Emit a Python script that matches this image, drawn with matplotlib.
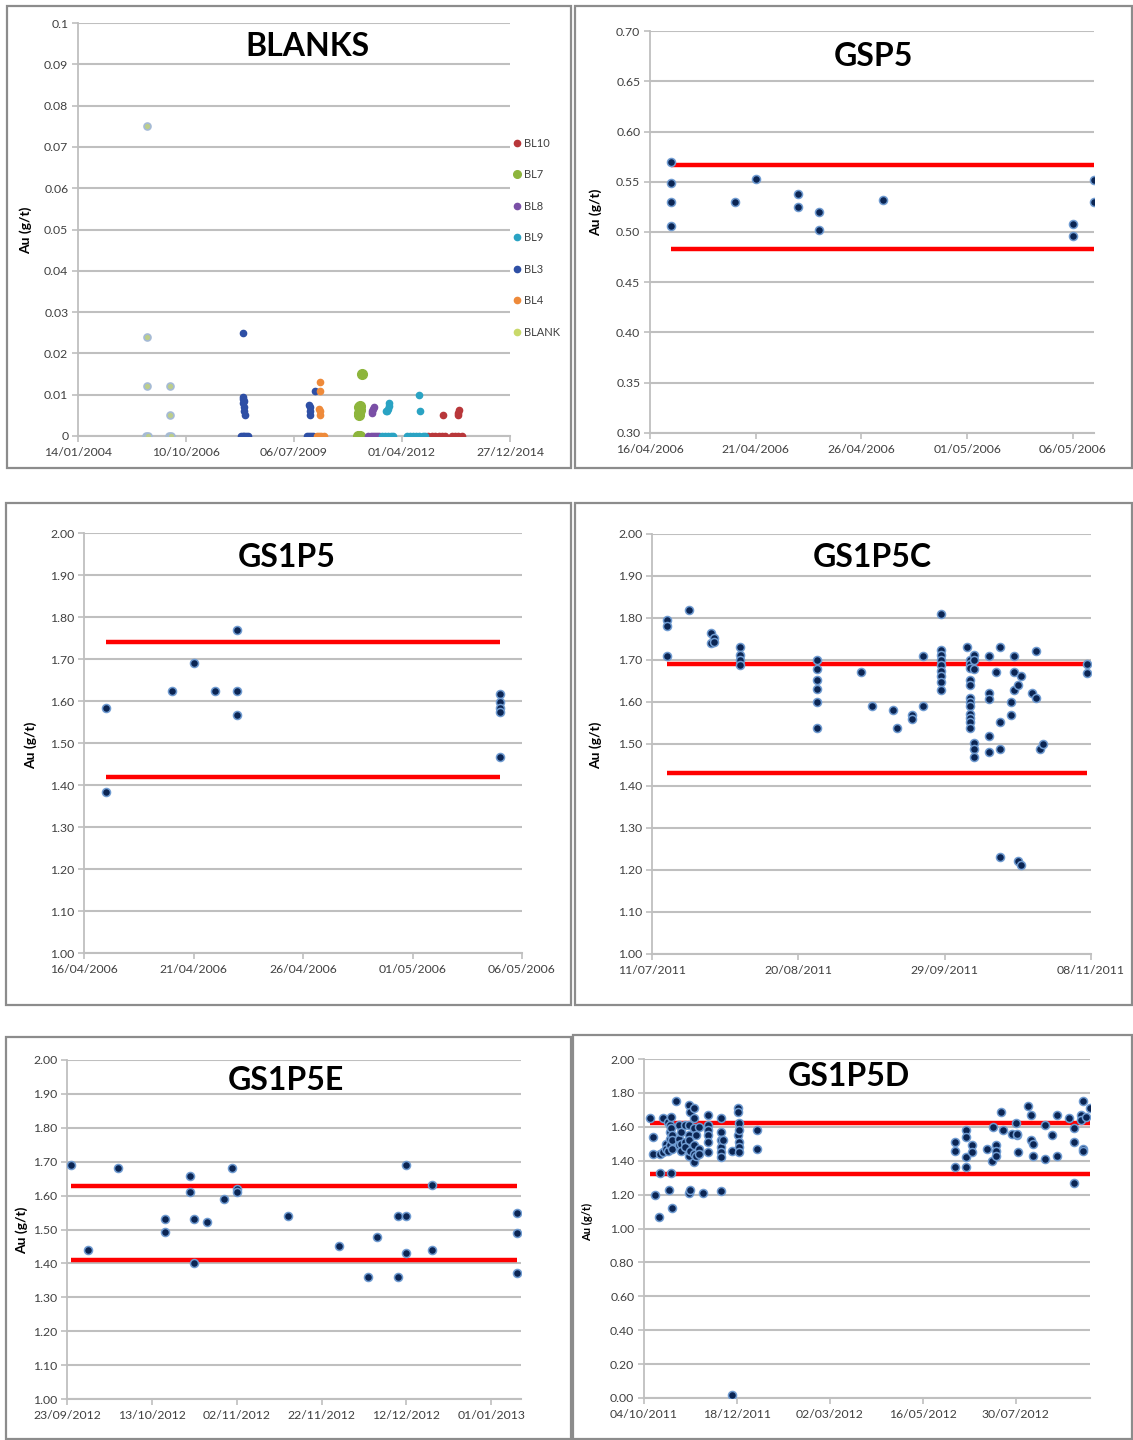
import numpy as np
import matplotlib
matplotlib.use('Agg')
import matplotlib.pyplot as plt
import matplotlib.dates as mdates
from matplotlib.patches import Rectangle
from datetime import date

plt.rcParams['font.family'] = ['Lato', 'DejaVu Sans']

# ---- data (x values are day offsets from each chart's first axis date) ----
BLANKS_START = date(2004, 1, 14)
BLANK_DAYS = [642, 642, 642, 634, 650, 852, 852, 844, 860]
BLANK_VALS = [0.075, 0.024, 0.012, 0, 0, 0.012, 0.005, 0, 0]
BL3_DAYS = [1531, 1525, 1531, 1537, 1528, 1534, 1540, 1545, 1510, 1525, 1540, 1555, 1570,
            2140, 2145, 2150, 2148, 2198, 2117, 2135, 2155, 2173]
BL3_VALS = [0.025, 0.0095, 0.009, 0.0085, 0.008, 0.007, 0.006, 0.005, 0, 0, 0, 0, 0,
            0.0075, 0.007, 0.006, 0.005, 0.011, 0, 0, 0, 0]
BL4_DAYS = [2245, 2238, 2235, 2240, 2245, 2210, 2230, 2250, 2278]
BL4_VALS = [0.013, 0.011, 0.0065, 0.006, 0.005, 0, 0, 0, 0]
BL7_DAYS = [2625, 2615, 2605, 2610, 2600, 2605, 2595, 2612]
BL7_VALS = [0.015, 0.0072, 0.007, 0.0062, 0.0055, 0.005, 0, 0]
BL8_DAYS = [2740, 2730, 2720, 2725, 2688, 2710, 2730, 2750, 2770, 2790]
BL8_VALS = [0.007, 0.0065, 0.006, 0.0055, 0, 0, 0, 0, 0, 0]
BL9_DAYS = [2875, 2878, 2868, 2860, 2850, 2812, 2840, 2870, 2900, 2920,
            3160, 3165, 3043, 3070, 3100, 3130, 3160, 3190, 3213]
BL9_VALS = [0.008, 0.0072, 0.0065, 0.006, 0.006, 0, 0, 0, 0, 0,
            0.010, 0.006, 0, 0, 0, 0, 0, 0, 0]
BL10_DAYS = [3377, 3244, 3275, 3306, 3340, 3370, 3398, 3525, 3520, 3518, 3460, 3490, 3520, 3552]
BL10_VALS = [0.005, 0, 0, 0, 0, 0, 0, 0.0062, 0.0055, 0.005, 0, 0, 0, 0]

GSP5_START = date(2006, 4, 16)
GSP5_DAYS = [1, 1, 1, 1, 4, 5, 7, 7, 8, 8, 11, 20, 20, 21, 21]
GSP5_VALS = [0.570, 0.549, 0.530, 0.506, 0.530, 0.553, 0.538, 0.525, 0.520, 0.502,
             0.532, 0.508, 0.496, 0.552, 0.530]
GSP5_LIMITS = [0.483, 0.567]

GS1P5_START = date(2006, 4, 16)
GS1P5_DAYS = [1, 1, 4, 5, 6, 7, 7, 7, 19, 19, 19, 19, 19]
GS1P5_VALS = [1.584, 1.383, 1.625, 1.691, 1.625, 1.770, 1.625, 1.566,
              1.617, 1.597, 1.584, 1.573, 1.466]
GS1P5_LIMITS = [1.418, 1.740]

GS1P5C_START = date(2011, 7, 11)
GS1P5C_DAYS = [4, 4, 4, 10, 16, 16, 17, 17, 24, 24, 24, 24,
               45, 45, 45, 45, 45, 45, 57, 60, 66, 67, 71, 71, 74, 74,
               79, 79, 79, 79, 79, 79, 79, 79, 79,
               86, 87, 87, 87, 87, 87, 87, 87, 87, 87, 87, 87, 87,
               88, 88, 88, 88, 88, 88, 92, 92, 92, 92, 92, 94,
               95, 95, 95, 95, 98, 98, 99, 99, 99, 100, 100, 101, 101,
               104, 105, 105, 106, 107, 119, 119]
GS1P5C_VALS = [1.796, 1.780, 1.709, 1.819, 1.764, 1.740, 1.752, 1.742, 1.732, 1.711, 1.700, 1.689,
               1.701, 1.678, 1.652, 1.630, 1.599, 1.538, 1.671, 1.591, 1.582, 1.538, 1.570, 1.560,
               1.710, 1.591,
               1.810, 1.725, 1.713, 1.701, 1.687, 1.675, 1.661, 1.648, 1.629,
               1.731, 1.700, 1.690, 1.681, 1.652, 1.641, 1.610, 1.600, 1.591, 1.572, 1.562, 1.552, 1.538,
               1.711, 1.700, 1.678, 1.503, 1.489, 1.468, 1.710, 1.622, 1.608, 1.520, 1.481, 1.671,
               1.731, 1.552, 1.489, 1.232, 1.599, 1.570, 1.710, 1.671, 1.629, 1.641, 1.222, 1.661, 1.211,
               1.622, 1.721, 1.610, 1.489, 1.501, 1.691, 1.669]
GS1P5C_LIMITS = [1.430, 1.690]

GS1P5E_START = date(2012, 9, 23)
GS1P5E_DAYS = [1, 5, 12, 23, 23, 29, 29, 30, 30, 33, 37, 39, 40, 40, 52, 64, 71, 73,
               78, 78, 80, 80, 80, 86, 86, 106, 106, 106]
GS1P5E_VALS = [1.690, 1.440, 1.680, 1.531, 1.492, 1.659, 1.610, 1.531, 1.400, 1.521, 1.589,
               1.680, 1.619, 1.610, 1.541, 1.451, 1.361, 1.479, 1.541, 1.361, 1.690, 1.541,
               1.430, 1.631, 1.440, 1.550, 1.491, 1.373]
GS1P5E_LIMITS = [1.410, 1.629]

GS1P5D_START = date(2011, 10, 4)
GS1P5D_DAYS = [5, 7, 7, 9, 12, 13, 13, 15, 15, 18, 18, 19, 19, 20, 21, 21, 21, 21,
               22, 22, 22, 23, 23, 23, 23, 26, 28, 28, 28, 30, 30, 30, 33, 33, 33,
               36, 36, 36, 36, 36, 36, 37, 37, 37, 40, 40, 40, 40, 40, 40, 42, 42,
               44, 44, 44, 48, 52, 52, 52, 52, 52, 52, 62, 62, 62, 62, 62, 62, 62,
               64, 71, 76, 76, 76, 77, 77, 77, 77, 77, 91, 91, 71,
               251, 251, 251, 260, 260, 260, 260, 265, 265, 277, 281, 282, 284, 284, 284,
               288, 290, 297, 300, 301, 301, 302, 310, 312, 312, 314, 314, 324, 324, 329,
               333, 333, 343, 347, 347, 347, 353, 353, 354, 354, 354, 357, 360]
GS1P5D_VALS = [1.65, 1.54, 1.44, 1.20, 1.07, 1.33, 1.44, 1.65, 1.45, 1.50, 1.47, 1.63, 1.46,
               1.23, 1.61, 1.57, 1.53, 1.49, 1.66, 1.33, 1.59, 1.55, 1.52, 1.47, 1.12, 1.75,
               1.61, 1.53, 1.49, 1.57, 1.50, 1.46, 1.61, 1.51, 1.48,
               1.73, 1.61, 1.55, 1.52, 1.43, 1.21, 1.69, 1.46, 1.23, 1.71, 1.65, 1.59, 1.49,
               1.44, 1.39, 1.55, 1.43, 1.60, 1.47, 1.44, 1.21, 1.67, 1.61, 1.58, 1.55, 1.51,
               1.45, 1.65, 1.57, 1.52, 1.48, 1.45, 1.42, 1.22, 1.52, 1.46, 1.71, 1.69, 1.55,
               1.62, 1.58, 1.51, 1.48, 1.45, 1.58, 1.47, 0.02,
               1.51, 1.46, 1.36, 1.58, 1.54, 1.42, 1.36, 1.49, 1.45, 1.47, 1.40, 1.60, 1.49,
               1.46, 1.43, 1.69, 1.58, 1.56, 1.62, 1.55, 1.56, 1.45, 1.72, 1.67, 1.52, 1.50,
               1.43, 1.61, 1.41, 1.55, 1.67, 1.43, 1.65, 1.59, 1.51, 1.27, 1.67, 1.64, 1.75,
               1.47, 1.46, 1.66, 1.71]
GS1P5D_LIMITS = [1.322, 1.620]

# ---- figure layout in pixels ----
W, H = 1133, 1440
fig = plt.figure(figsize=(W / 100, H / 100), dpi=100)

GRID = '#bfbfbf'
TXT = '#404040'
DOT = dict(marker='o', ls='none', ms=5.8, mfc='#0b2553', mec='#6f9bd1', mew=1.1, zorder=4)


def px_axes(l, t, r, b):
    return fig.add_axes([l / W, 1 - b / H, (r - l) / W, (b - t) / H])


def frame(x0, y0, x1, y1):
    fig.add_artist(Rectangle((x0 / W, 1 - y1 / H), (x1 - x0) / W, (y1 - y0) / H,
                             transform=fig.transFigure, fill=False, ec='#8c8c8c', lw=1.6))


def dnum(start, days):
    return mdates.date2num(start) + np.asarray(days, dtype=float)


def setup(ax, start, step, nticks, xmax, ylim, ystep, yfmt, title, tx, ty, ylab_x, ylab_y,
          ylab_size=10, title_size=23):
    x0 = mdates.date2num(start)
    ax.set_xlim(x0, x0 + xmax)
    ax.set_ylim(*ylim)
    ax.set_xticks(x0 + np.arange(nticks) * step)
    ax.xaxis.set_major_formatter(mdates.DateFormatter('%d/%m/%Y'))
    yt = np.arange(ylim[0], ylim[1] + ystep / 2, ystep)
    ax.set_yticks(yt)
    ax.set_yticklabels([yfmt.format(v) for v in yt])
    ax.grid(axis='y', color=GRID, lw=1.5, zorder=0)
    ax.set_axisbelow(True)
    for s in ['top', 'right']:
        ax.spines[s].set_visible(False)
    ax.spines['left'].set_color(GRID)
    ax.spines['bottom'].set_color(GRID)
    ax.spines['left'].set_linewidth(1.3)
    ax.spines['bottom'].set_linewidth(1.5)
    ax.tick_params(axis='both', colors=GRID, labelcolor=TXT, labelsize=8.8, length=4, width=1.2)
    ax.tick_params(axis='y', pad=3)
    ax.tick_params(axis='x', pad=4)
    fig.text(tx / W, 1 - ty / H, title, ha='center', va='center', fontsize=title_size,
             fontweight='bold', color='black')
    fig.text(ylab_x / W, 1 - ylab_y / H, 'Au (g/t)', rotation=90, ha='center', va='center',
             fontsize=ylab_size, fontweight='bold', color='black')


def limits(ax, start, d0, d1, levels):
    for lv in levels:
        ax.plot(dnum(start, [d0, d1]), [lv, lv], color='#ff0000', lw=3.2, zorder=3,
                solid_capstyle='butt')


# frames
frame(7, 6, 571, 468)
frame(575, 6, 1132, 468)
frame(6, 503, 571, 1005)
frame(575, 503, 1132, 1005)
frame(6, 1037, 571, 1439)
frame(573, 1035, 1132, 1439)

# ---- BLANKS ----
ax = px_axes(78, 23, 510, 436)
setup(ax, BLANKS_START, 1000, 5, 4000, (0, 0.1), 0.01, '{:g}', 'BLANKS', 307, 47, 26, 230)
ax.set_yticklabels(['0'] + ['{:.2f}'.format(v) for v in np.arange(0.01, 0.095, 0.01)] + ['0.1'])
series = [
    ('BL10', BL10_DAYS, BL10_VALS, '#b8373a', 4.5),
    ('BL7', BL7_DAYS, BL7_VALS, '#8db53c', 7),
    ('BL8', BL8_DAYS, BL8_VALS, '#7a4fa6', 4.5),
    ('BL9', BL9_DAYS, BL9_VALS, '#2aa3c3', 4.5),
    ('BL3', BL3_DAYS, BL3_VALS, '#2e4fa5', 4.5),
    ('BL4', BL4_DAYS, BL4_VALS, '#ee8a3a', 4.5),
]
for name, dd, vv, col, ms in series:
    ax.plot(dnum(BLANKS_START, dd), vv, marker='o', ls='none', ms=ms, mfc=col, mec=col,
            label=name, zorder=4)
ax.plot(dnum(BLANKS_START, BLANK_DAYS), BLANK_VALS, marker='o', ls='none', ms=5,
        mfc='#bccd8a', mec='#a5bad6', mew=1.2, zorder=4)
ax.plot([], [], marker='o', ls='none', ms=4.5, mfc='#c9d96a', mec='#c9d96a', label='BLANK')
leg = ax.legend(loc='upper left', bbox_to_anchor=(508 / W, 1 - 132 / H),
                bbox_transform=fig.transFigure, frameon=False, fontsize=8,
                labelspacing=1.85, handlelength=0.6, handletextpad=0.35, borderpad=0)
leg.legend_handles[1].set_markersize(5.5)
for t in leg.get_texts():
    t.set_color(TXT)

# ---- GSP5 ----
ax = px_axes(650, 31, 1094, 433)
setup(ax, GSP5_START, 5, 5, 21, (0.30, 0.70), 0.05, '{:.2f}', 'GSP5', 873, 56, 596, 212)
limits(ax, GSP5_START, 1, 21, GSP5_LIMITS)
ax.plot(dnum(GSP5_START, GSP5_DAYS), GSP5_VALS, **DOT)

# ---- GS1P5 ----
ax = px_axes(84, 533, 522, 953)
setup(ax, GS1P5_START, 5, 5, 20, (1.0, 2.0), 0.1, '{:.2f}', 'GS1P5', 287, 557, 31, 745)
limits(ax, GS1P5_START, 1, 19, GS1P5_LIMITS)
ax.plot(dnum(GS1P5_START, GS1P5_DAYS), GS1P5_VALS, **DOT)

# ---- GS1P5C ----
ax = px_axes(652, 534, 1091, 954)
setup(ax, GS1P5C_START, 40, 4, 120, (1.0, 2.0), 0.1, '{:.2f}', 'GS1P5C', 872, 557, 596, 745)
limits(ax, GS1P5C_START, 4, 119, GS1P5C_LIMITS)
ax.plot(dnum(GS1P5C_START, GS1P5C_DAYS), GS1P5C_VALS, **DOT)

# ---- GS1P5E ----
ax = px_axes(67, 1060, 521, 1399)
setup(ax, GS1P5E_START, 20, 6, 107, (1.0, 2.0), 0.1, '{:.2f}', 'GS1P5E', 286, 1080, 22, 1230)
limits(ax, GS1P5E_START, 1, 106, GS1P5E_LIMITS)
ax.plot(dnum(GS1P5E_START, GS1P5E_DAYS), GS1P5E_VALS, **DOT)

# ---- GS1P5D ----
ax = px_axes(644, 1059, 1090, 1398)
setup(ax, GS1P5D_START, 75, 5, 360, (0.0, 2.0), 0.2, '{:.2f}', 'GS1P5D', 849, 1076, 588, 1222,
      ylab_size=8)
limits(ax, GS1P5D_START, 5, 360, GS1P5D_LIMITS)
ax.plot(dnum(GS1P5D_START, GS1P5D_DAYS), GS1P5D_VALS, **DOT)

fig.savefig('out.png', dpi=100)
